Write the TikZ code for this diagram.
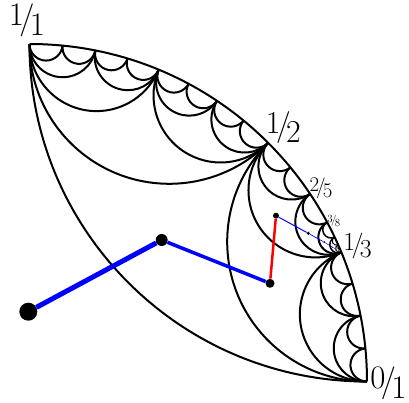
\documentclass[tikz,border=0pt]{standalone}
\usepackage{tikz}
\usetikzlibrary{calc}
\definecolor{pathblue}{RGB}{0,0,255}
\definecolor{turnred}{RGB}{255,0,0}
\newcommand{\slfrac}[2]{\raisebox{.08em}{#1}\kern-.14em/\kern-.14em\raisebox{-.22em}{#2}}
\newcommand{\lsize}[1]{\fontsize{#1}{#1}\selectfont}

\begin{document}
\begin{tikzpicture}[
  x=1bp,y=1bp,
  farey/.style={line width=2bp,draw=black},
  dualdot/.style={circle,fill=black,inner sep=0pt},
  dualedge/.style={draw=pathblue},
  turnedge/.style={draw=turnred},
  vlabel/.style={inner sep=0pt}
]
\useasboundingbox (-29.5,-21.5) rectangle (379.5,381.5);
\def\R{337.5}

% -------------------------------------------------------------------------
% boundary and Farey geodesics
% -------------------------------------------------------------------------
\draw[farey] (90:\R) arc[start angle=90,end angle=0,radius=\R];
\foreach \lev in {0,...,4}{
  \pgfmathtruncatemacro{\last}{2^\lev-1}
  \pgfmathsetmacro{\h}{45/2^\lev}
  \foreach \j in {0,...,\last}{
    \pgfmathsetmacro{\m}{\h*(2*\j+1)}
    \draw[farey] ({\m+\h}:\R)
      arc[start angle={\m+90+\h},end angle={\m+270-\h},radius={\R*tan(\h)}];
  }
}
% deeper triangles next to 1/3
\foreach \lev/\w in {5/1.5,6/1.0,7/0.6}{
  \pgfmathsetmacro{\h}{45/2^\lev}
  \foreach \j in {0,1}{
    \pgfmathsetmacro{\m}{22.5+\h*(2*\j+1)}
    \draw[farey,line width=\w bp] ({\m+\h}:\R)
      arc[start angle={\m+90+\h},end angle={\m+270-\h},radius={\R*tan(\h)}];
  }
}

% -------------------------------------------------------------------------
% path of triangles towards 1/3
% -------------------------------------------------------------------------
\node[dualdot,minimum size=18bp] (t0) at (-1.2,69.8) {};
\node[dualdot,minimum size=12bp] (t1) at (132.2,141.5) {};
\node[dualdot,minimum size=9bp] (t2) at (240.5,98.2) {};
\node[dualdot,minimum size=6bp] (t3) at (246.5,165.8) {};
\node[dualdot,minimum size=3.4bp] (t4) at (278.8,148.2) {};
\node[dualdot,minimum size=2bp] (t5) at (25.3125:326) {};
\node[dualdot,minimum size=1.2bp] (t6) at (23.906:331.4) {};
\node[dualdot,minimum size=0.8bp] (t7) at (23.203:334.5) {};
\draw[dualedge,line width=5bp] (t0) -- (t1);
\draw[dualedge,line width=3.5bp] (t1) -- (t2);
\draw[turnedge,line width=2.5bp] (t2) -- (t3);
\foreach \a/\b/\w in {t3/t4/1,t4/t5/0.7,t5/t6/0.5,t6/t7/0.35}
  {\draw[dualedge,line width=\w bp] (\a) -- (\b);}

% -------------------------------------------------------------------------
% vertex labels
% -------------------------------------------------------------------------
\node[vlabel,font=\lsize{33}] (v11) at (90.4:361.5) {\slfrac{1}{1}};
\node[vlabel,font=\lsize{32}] (v12) at (45:359) {\slfrac{1}{2}};
\node[vlabel,font=\lsize{21}] (v25) at (33.6:350) {\slfrac{2}{5}};
\node[vlabel,font=\lsize{11}] (v38) at (27.8:344) {\slfrac{3}{8}};
\node[vlabel,font=\lsize{26}] (v13) at (22.5:355) {\slfrac{1}{3}};
\node[vlabel,font=\lsize{33}] (v01) at (-0.3:359) {\slfrac{0}{1}};
\end{tikzpicture}
\end{document}
